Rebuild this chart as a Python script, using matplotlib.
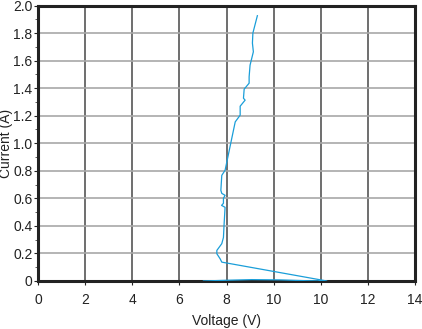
import numpy as np
import matplotlib
matplotlib.use('Agg')
import matplotlib.pyplot as plt
from matplotlib.ticker import MultipleLocator

# ---- data (x in axis units, ticks every 2)
volt = [9.31, 9.12, 9.10, 9.14, 9.00, 8.96, 8.96, 8.75, 8.72, 8.79, 8.58, 8.58, 8.37,
        7.94, 7.80, 7.76, 7.80, 7.94, 7.87, 7.87, 7.79, 7.94, 7.90, 7.87, 7.80, 7.59,
        7.59, 7.73, 7.80, 12.26, 11.41, 10.28, 9.07, 7.94, 7.02]
curr = [1.926, 1.80, 1.727, 1.664, 1.567, 1.482, 1.436, 1.393, 1.327, 1.313, 1.269, 1.204, 1.155,
        0.804, 0.767, 0.658, 0.636, 0.622, 0.600, 0.564, 0.549, 0.535, 0.418, 0.316, 0.271, 0.222,
        0.198, 0.161, 0.137, 0.0, 0.002, 0.008, 0.010, 0.005, 0.0]

xticks = [0, 2, 4, 6, 8, 10, 12, 14, 16]
xlabels = ['0', '2', '4', '6', '8', '10', '10', '12', '14']
yticks = [0, 0.2, 0.4, 0.6, 0.8, 1.0, 1.2, 1.4, 1.6, 1.8, 2.0]
ylabels = ['0', '0.2', '0.4', '0.6', '0.8', '1.0', '1.2', '1.4', '1.6', '1.8', '2.0']

plt.rcParams['font.family'] = ['Liberation Sans', 'DejaVu Sans']

fig = plt.figure(figsize=(4.22, 3.29), dpi=100)
ax = fig.add_axes([38/422, 48/329, (415-38)/422, (281-5.5)/329])

ax.plot(volt, curr, color='#1a9ed9', linewidth=0.9, zorder=3)

ax.set_xlim(0, 16)
ax.set_ylim(0, 2.0)
ax.set_xticks(xticks)
ax.set_xticklabels(xlabels, fontsize=10)
ax.set_yticks(yticks)
ax.set_yticklabels(ylabels, fontsize=10)
ax.yaxis.set_minor_locator(MultipleLocator(0.1))

ax.grid(axis='x', color='#555555', linewidth=1.2)
ax.grid(axis='y', color='#a8a8a8', linewidth=1.2)
ax.set_axisbelow(True)

for s in ax.spines.values():
    s.set_linewidth(2.2)
    s.set_color('#222222')

ax.tick_params(axis='x', which='major', direction='out', length=3, width=0.8, pad=6, colors='#222222')
ax.tick_params(axis='y', which='major', direction='out', length=3, width=0.8, pad=1, colors='#222222')
ax.tick_params(axis='y', which='minor', direction='out', length=2, width=0.6, colors='#444444')

ax.set_xlabel('Voltage (V)', fontsize=10, color='#222222', labelpad=5)
ax.set_ylabel('Current (A)', fontsize=10, color='#222222', labelpad=0)
ax.yaxis.set_label_coords(-0.066, 0.5)

plt.savefig('out.png', dpi=100)
